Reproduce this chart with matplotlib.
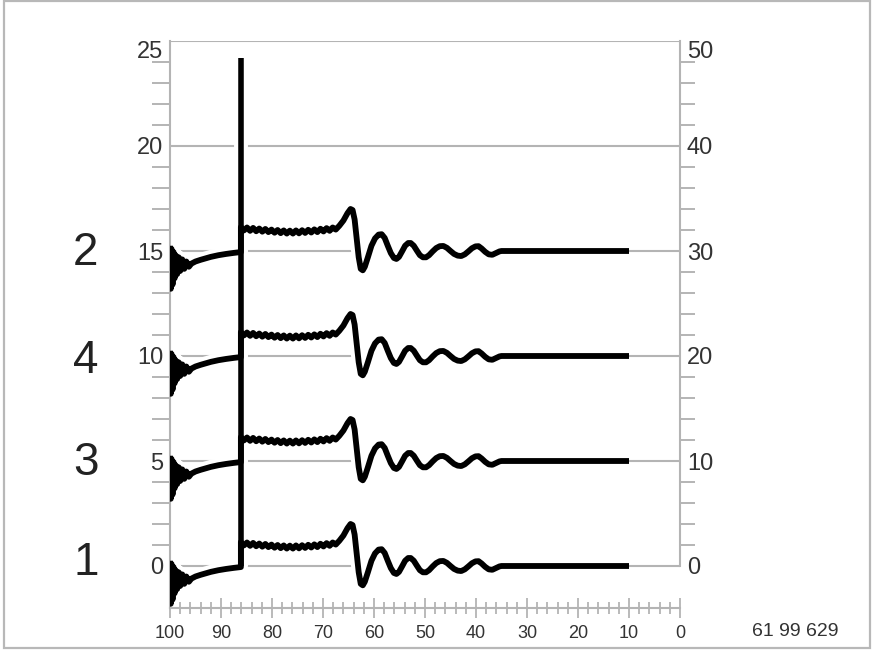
import matplotlib.pyplot as plt
import matplotlib.patches as patches
import matplotlib.transforms as mtransforms
from matplotlib.ticker import FixedLocator
import numpy as np

# --- 1. DATA ---
TRACE_NAMES = ['1', '3', '4', '2']
TRACE_OFFSETS = [0, 5, 10, 15]
NAME_Y = [-0.45, 4.35, 9.2, 14.35]

# noisy start before the pulse
START_X = [100.0, 99.85, 99.7, 99.5, 99.3, 99.1, 98.9, 98.6, 98.3, 98.0, 97.6, 97.2,
           96.8, 96.3, 95.8, 95.0, 94.0, 93.0, 92.0, 90.5, 89.0, 87.5, 86.1]
START_Y = [0.25, -1.8, 0.1, -1.6, -0.05, -1.3, -0.2, -1.1, -0.3, -0.95, -0.4, -0.85,
           -0.5, -0.75, -0.6, -0.5, -0.42, -0.35, -0.28, -0.2, -0.14, -0.09, -0.05]

# rippled plateau after the pulse
PLATEAU_X = [86.1, 85.5, 84.9, 84.3, 83.7, 83.1, 82.5, 81.9, 81.3, 80.7, 80.1, 79.5,
             78.9, 78.3, 77.7, 77.1, 76.5, 75.9, 75.3, 74.7, 74.1, 73.5, 72.9, 72.3,
             71.7, 71.1, 70.5, 69.9, 69.3, 68.7, 68.1, 67.5]
PLATEAU_Y = [1.14, 0.98, 1.12, 0.96, 1.10, 0.94, 1.07, 0.92, 1.05, 0.90, 1.02, 0.87,
             1.00, 0.85, 0.98, 0.83, 0.97, 0.83, 0.98, 0.84, 0.99, 0.86, 1.01, 0.88,
             1.03, 0.90, 1.06, 0.93, 1.09, 0.96, 1.12, 1.02]

# overshoot, ringing and flat tail
RING_X = [66.8, 66.0, 65.2, 64.6, 64.2, 63.8, 63.4, 63.0, 62.6, 62.2, 61.8, 61.2,
          60.5, 59.8, 59.1, 58.5, 57.9, 57.3, 56.7, 56.1, 55.6, 55.1, 54.5, 53.9,
          53.3, 52.8, 52.2, 51.6, 51.0, 50.4, 49.8, 49.2, 48.5, 47.8, 47.1, 46.4,
          45.7, 45.0, 44.3, 43.6, 42.9, 42.2, 41.5, 40.8, 40.1, 39.5, 38.9, 38.2,
          37.5, 36.8, 36.1, 35.4, 35.0, 10.0]
RING_Y = [1.2, 1.45, 1.8, 2.0, 1.95, 1.5, 0.6, -0.3, -0.85, -0.92, -0.75, -0.3,
          0.25, 0.6, 0.78, 0.8, 0.62, 0.25, -0.1, -0.33, -0.38, -0.28, -0.02, 0.25,
          0.38, 0.38, 0.25, 0.02, -0.2, -0.3, -0.3, -0.2, -0.02, 0.14, 0.23, 0.24,
          0.15, 0.0, -0.14, -0.22, -0.24, -0.16, -0.02, 0.13, 0.22, 0.23, 0.12, -0.04,
          -0.16, -0.18, -0.1, -0.02, 0.0, 0.0]

SPIKE_X = 86.1
SPIKE_TOP = 24.2

GRID_BREAK = (64.3, 10.0)   # baseline grid hidden between these x values
CODE_TEXT = '61 99 629'

GRAY = '#b4b4b4'
TXT = '#333333'
plt.rcParams['font.family'] = ['Liberation Sans', 'DejaVu Sans']


def main():
    fig = plt.figure(figsize=(8.75, 6.53), dpi=100)
    ax = fig.add_axes([170 / 875, 45 / 653, 510 / 875, 567 / 653])
    ax2 = ax.twinx()

    wave_x = np.array(START_X + PLATEAU_X + RING_X)
    wave_y = np.array(START_Y + PLATEAU_Y + RING_Y)

    # grid lines (baselines are broken where the ringing sits)
    for o in TRACE_OFFSETS:
        ax.hlines(o, 100, GRID_BREAK[0], color=GRAY, lw=1.5, zorder=1)
        ax.hlines(o, GRID_BREAK[1], 0, color=GRAY, lw=1.5, zorder=1)
    ax.hlines([20, 25], 100, 0, color=GRAY, lw=1.5, zorder=1)

    # white halo first, then the black traces
    for o in TRACE_OFFSETS:
        ax.plot(wave_x, wave_y + o, color='white', lw=10, zorder=2, solid_capstyle='butt')
    ax.plot([SPIKE_X, SPIKE_X], [0, SPIKE_TOP], color='white', lw=10, zorder=2,
            solid_capstyle='butt')
    for o in TRACE_OFFSETS:
        ax.plot(wave_x, wave_y + o, color='black', lw=4.2, zorder=3,
                solid_joinstyle='round', solid_capstyle='butt')
    ax.plot([SPIKE_X, SPIKE_X], [0, SPIKE_TOP], color='black', lw=4.0, zorder=3,
            solid_capstyle='butt')

    ax.set_xlim(100, 0)
    ax.set_ylim(-2, 25)
    ax2.set_ylim(-4, 50)

    for s in ['top', 'right']:
        ax.spines[s].set_visible(False)
    for s in ['top', 'left', 'bottom']:
        ax2.spines[s].set_visible(False)
    ax.spines['left'].set_bounds(-2, 25)
    ax.spines['bottom'].set_bounds(0, 100)
    ax2.spines['right'].set_bounds(0, 50)
    for sp in [ax.spines['left'], ax.spines['bottom'], ax2.spines['right']]:
        sp.set_color(GRAY)
        sp.set_linewidth(1.5)

    # left axis
    left_major = list(range(0, 26, 5))
    ax.set_yticks(left_major, labels=[str(v) for v in left_major])
    ax.yaxis.set_minor_locator(FixedLocator([v for v in range(1, 25) if v % 5]))
    ax.tick_params(axis='y', which='major', length=0, pad=5, labelsize=17, labelcolor=TXT)
    ax.tick_params(axis='y', which='minor', length=13, width=1.4, color=GRAY)
    ax.get_yticklabels()[-1].set_va('top')

    # right axis
    right_major = list(range(0, 51, 10))
    ax2.set_yticks(right_major, labels=[str(v) for v in right_major])
    ax2.yaxis.set_minor_locator(FixedLocator([v for v in range(2, 50, 2) if v % 10]))
    ax2.tick_params(axis='y', which='major', length=0, pad=5, labelsize=17, labelcolor=TXT)
    ax2.tick_params(axis='y', which='minor', length=11, width=1.4, color=GRAY)
    ax2.get_yticklabels()[-1].set_va('top')

    # bottom axis
    ax.set_xticks(list(range(0, 101, 10)))
    ax.xaxis.set_minor_locator(FixedLocator(list(range(0, 101, 2))))
    ax.tick_params(axis='x', which='major', direction='inout', length=14, width=1.3,
                   color=GRAY, pad=5, labelcolor=TXT)
    ax.tick_params(axis='x', which='minor', direction='inout', length=8.5, width=1.3,
                   color=GRAY)
    for lbl in ax.get_xticklabels():
        lbl.set_family(['Liberation Sans Narrow', 'Liberation Sans'])
        lbl.set_fontsize(13)

    # trace names
    trans = mtransforms.blended_transform_factory(ax.transAxes, ax.transData)
    for name, y in zip(TRACE_NAMES, NAME_Y):
        ax.text(-0.165, y, name, transform=trans, ha='center', va='baseline',
                fontsize=33, color='#222222', clip_on=False)

    fig.text(795 / 875, 21 / 653, CODE_TEXT, ha='center', va='center',
             fontsize=14, color=TXT)

    fig.patches.append(patches.Rectangle((4 / 875, 5 / 653), 866 / 875, 647 / 653,
                                         transform=fig.transFigure, fill=False,
                                         edgecolor='#b8b8b8', lw=1.6))

    fig.savefig('out.png', dpi=100)
    plt.close(fig)


if __name__ == '__main__':
    main()
